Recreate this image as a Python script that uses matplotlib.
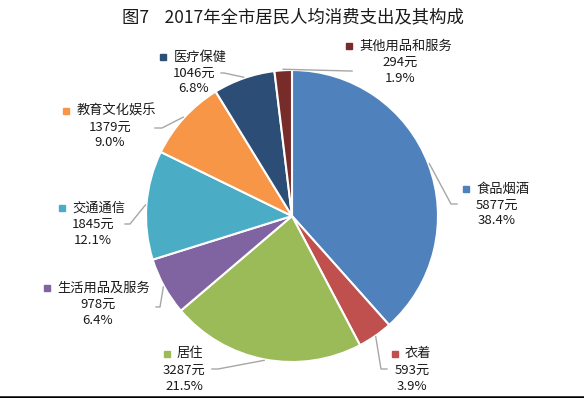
import numpy as np
import matplotlib
matplotlib.use("Agg")
import matplotlib.pyplot as plt

plt.rcParams['font.family'] = ['Noto Sans CJK SC', 'DejaVu Sans']

categories = ['食品烟酒', '衣着', '居住', '生活用品及服务', '交通通信',
              '教育文化娱乐', '医疗保健', '其他用品和服务']
amounts = [5877, 593, 3287, 978, 1845, 1379, 1046, 294]
percents = ['38.4%', '3.9%', '21.5%', '6.4%', '12.1%', '9.0%', '6.8%', '1.9%']
colors = ['#4F81BD', '#C0504D', '#9BBB59', '#8064A2', '#4BACC6',
          '#F79646', '#2C4D75', '#772C2A']
title = '图7    2017年全市居民人均消费支出及其构成'

W, H = 584, 398
fig = plt.figure(figsize=(W / 100, H / 100), dpi=100)
ax = fig.add_axes([0, 0, 1, 1])

# pixel-like coords with y pointing down
cx, cy, r = 292, 216, 146
wedges, _ = ax.pie(amounts, colors=colors, startangle=-90, counterclock=True,
                   radius=r, center=(cx, cy), frame=True,
                   wedgeprops=dict(edgecolor='white', linewidth=1.5))
ax.set_xlim(0, W)
ax.set_ylim(H, 0)
ax.set_aspect('auto')
ax.axis('off')

# label block centers and leader-line elbow / end points
label_pos = [(497, 205), (412, 370), (184, 370), (98, 304),
             (93, 224), (110, 127), (194, 73), (400, 62)]
elbows = [(451, 204), (381, 369), (218, 369), (160, 307),
          (130, 224), (162, 128), (224, 73), (350, 71)]
ends = [(457, 204), (387, 369), (212, 369), (156, 307),
        (125, 224), (155, 128), (221, 73), (352, 71)]

txt = '#1a1a1a'
for w, lp, el, en, name, amt, pct, c in zip(wedges, label_pos, elbows, ends,
                                            categories, amounts, percents, colors):
    ang = np.deg2rad((w.theta1 + w.theta2) / 2)
    sx = cx + (r + 1) * np.cos(ang)
    sy = cy + (r + 1) * np.sin(ang)
    ax.plot([sx, el[0], en[0]], [sy, el[1], en[1]], color='#A6A6A6', lw=1)
    tx, ty = lp
    ax.text(tx + 6, ty - 16, name, ha='center', va='center', fontsize=9.5, color=txt)
    ax.text(tx, ty, f'{amt}元', ha='center', va='center', fontsize=9.5, color=txt)
    ax.text(tx, ty + 16, pct, ha='center', va='center', fontsize=9.5, color=txt)
    # small square key before the category name
    nw = len(name) * 13.5
    ax.plot(tx + 6 - nw / 2 - 10, ty - 16, marker='s', ms=4.5, color=c, mec=c)

ax.text(293, 17, title, ha='center', va='center', fontsize=12.5, color=txt)
ax.plot([0, W], [396.5, 396.5], color='black', lw=1.8, clip_on=False)

fig.savefig('out.png', dpi=100)
